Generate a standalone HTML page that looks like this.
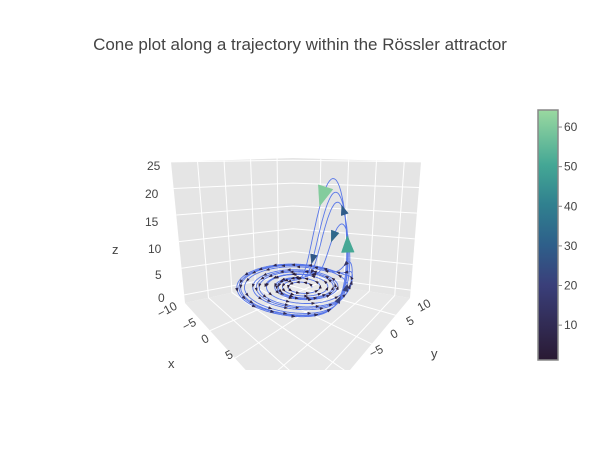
<!DOCTYPE html>
<html><head><meta charset="utf-8"><style>
html,body{margin:0;padding:0;background:#fff;}
svg text{font-family:"Liberation Sans",sans-serif;fill:#444;}
</style></head><body>
<svg id="chart" width="600" height="450" viewBox="0 0 600 450">
<text x="300" y="50" text-anchor="middle" font-size="17">Cone plot along a trajectory within the Rössler attractor</text>
<defs>
<clipPath id="sceneclip"><rect x="0" y="60" width="520" height="310"/></clipPath>
<linearGradient id="cbgrad" x1="0" y1="1" x2="0" y2="0">
<stop offset="0" stop-color="#2a1a33"/><stop offset="0.3" stop-color="#3a3f7a"/><stop offset="0.46" stop-color="#2e5f8a"/><stop offset="0.62" stop-color="#30808f"/><stop offset="0.78" stop-color="#44a795"/><stop offset="1" stop-color="#9ad9a0"/>
</linearGradient>
</defs>
<g id="scene" clip-path="url(#sceneclip)">
<polygon points="171,162 293,158 293,279 185,303" fill="#e5e5e5"/>
<polygon points="293,158 421,162 410,298 293,279" fill="#e5e5e5"/>
<polygon points="185,303 293,279 410,298 300,430" fill="#e8e8e8"/>
<g id="grid" stroke="#fff" stroke-width="1" fill="none"></g>
<g id="traj"></g>
<g id="cones"></g>
</g>
<g font-size="12">
<text x="147" y="170">25</text>
<text x="145" y="198">20</text>
<text x="145" y="226">15</text>
<text x="148" y="253">10</text>
<text x="155" y="279">5</text>
<text x="158" y="302">0</text>
<text x="112" y="254" font-size="13">z</text>
</g>
<g font-size="12">
<text transform="translate(160,318) rotate(-28)">−10</text>
<text transform="translate(185,331) rotate(-28)">−5</text>
<text transform="translate(204,344) rotate(-28)">0</text>
<text transform="translate(228,360) rotate(-28)">5</text>
<text x="168" y="368" font-size="13">x</text>
</g>
<g font-size="12">
<text transform="translate(420,312) rotate(-28)">10</text>
<text transform="translate(409,326) rotate(-28)">5</text>
<text transform="translate(393,339) rotate(-28)">0</text>
<text transform="translate(372,358) rotate(-28)">−5</text>
<text x="431" y="358" font-size="13">y</text>
</g>
<g>
<rect x="538" y="110" width="20" height="250" fill="url(#cbgrad)" stroke="#888" stroke-width="1.5"/>
<g id="cbticks" font-size="12"></g>
</g>
</svg>
<script>
// Rössler parameters and initial state (the trajectory data source)
const rosslerParams = [0.2, 0.2, 5.7];
const initialState = [1.0, 1.0, 0.0];
const timeSpan = [0, 80];
const coneEvery = 32; // steps between cones
const colorbarTicks = [10, 20, 30, 40, 50, 60];
const colorRange = [1.2, 64.3];

const NS = 'http://www.w3.org/2000/svg';
function mk(tag, attrs, parent){const e=document.createElementNS(NS,tag);for(const k in attrs)e.setAttribute(k,attrs[k]);parent.appendChild(e);return e;}

// projection
function proj(x,y,z){return [302+4.8*x+5.0*y, 287+2.0*x-1.6*y-5.2*z];}

// grid
const grid=document.getElementById('grid');
function lerp(a,b,t){return [a[0]+(b[0]-a[0])*t,a[1]+(b[1]-a[1])*t];}
const LT=[171,162],LB=[185,303],BT=[293,158],BB=[293,279],RT=[421,162],RB=[410,298],FR=[300,430];
for(let i=0;i<=5;i++){const t=(i*5+1)/26.5;
 const l=lerp(LB,LT,t+0.02),b=lerp(BB,BT,t),r=lerp(RB,RT,t+0.02);
 mk('polyline',{points:`${l} ${b} ${r}`},grid);}
for(let i=1;i<=4;i++){const t=i/4.6;
 mk('line',{x1:lerp(LT,BT,t)[0],y1:lerp(LT,BT,t)[1],x2:lerp(LB,BB,t)[0],y2:lerp(LB,BB,t)[1]},grid);
 mk('line',{x1:lerp(BT,RT,t)[0],y1:lerp(BT,RT,t)[1],x2:lerp(BB,RB,t)[0],y2:lerp(BB,RB,t)[1]},grid);
 const a=lerp(LB,BB,t),c=lerp(FR,RB,t);mk('line',{x1:a[0],y1:a[1],x2:c[0],y2:c[1]},grid);
 const d=lerp(BB,RB,t),e=lerp(LB,FR,t);mk('line',{x1:d[0],y1:d[1],x2:e[0],y2:e[1]},grid);}

// integrate
function deriv(s){const [a,b,c]=rosslerParams;return [-s[1]-s[2], s[0]+a*s[1], b+s[2]*(s[0]-c)];}
const dt=0.02;let s=initialState.slice();const pts=[s.slice()];
for(let t=timeSpan[0];t<timeSpan[1];t+=dt){
 const k1=deriv(s),k2=deriv(s.map((v,i)=>v+dt/2*k1[i])),k3=deriv(s.map((v,i)=>v+dt/2*k2[i])),k4=deriv(s.map((v,i)=>v+dt*k3[i]));
 s=s.map((v,i)=>v+dt/6*(k1[i]+2*k2[i]+2*k3[i]+k4[i]));pts.push(s.slice());}
const traj=document.getElementById('traj');
const line=mk('polyline',{points:pts.map(p=>proj(...p).map(v=>v.toFixed(1)).join(',')).join(' '),fill:'none',stroke:'#5a78e8','stroke-width':'0.9'},traj);



// colors
const stops=[[0,[42,26,51]],[0.3,[58,63,122]],[0.46,[46,95,138]],[0.62,[48,128,143]],[0.78,[68,167,149]],[1,[154,217,160]]];
function col(v){let t=(v-colorRange[0])/(colorRange[1]-colorRange[0]);t=Math.max(0,Math.min(1,t));
 for(let i=1;i<stops.length;i++){if(t<=stops[i][0]){const f=(t-stops[i-1][0])/(stops[i][0]-stops[i-1][0]);
  const c=stops[i][1].map((cc,j)=>Math.round(stops[i-1][1][j]+(cc-stops[i-1][1][j])*f));
  return 'rgb('+c.join(',')+')';}}
 return 'rgb(154,217,160)';}

// cones
const cones=document.getElementById('cones');
for(let i=coneEvery;i<pts.length;i+=coneEvery){
 const p=pts[i],d=deriv(p);const m=Math.hypot(...d);
 const a=proj(...p),b=proj(p[0]+d[0]*0.01,p[1]+d[1]*0.01,p[2]+d[2]*0.01);
 let dx=b[0]-a[0],dy=b[1]-a[1];const L=Math.hypot(dx,dy)||1;dx/=L;dy/=L;
 const len=Math.max(3,m*0.33),w=len*0.38;
 const tip=[a[0]+dx*len/2,a[1]+dy*len/2],base=[a[0]-dx*len/2,a[1]-dy*len/2];
 const c=mk('polygon',{points:`${tip} ${base[0]-dy*w},${base[1]+dx*w} ${base[0]+dy*w},${base[1]-dx*w}`,fill:col(m),stroke:col(m),'stroke-width':'0.5'},cones);
 
 
}

// colorbar ticks
const cbt=document.getElementById('cbticks');
colorbarTicks.forEach(v=>{const y=110+(colorRange[1]-v)/(colorRange[1]-colorRange[0])*250;
 const tk=mk('line',{x1:558,x2:562,y1:y,y2:y,stroke:'#888'},cbt);
 
 
 const tx=mk('text',{x:564,y:y+4},cbt);tx.textContent=v;
 
 });
</script>
</body></html>
